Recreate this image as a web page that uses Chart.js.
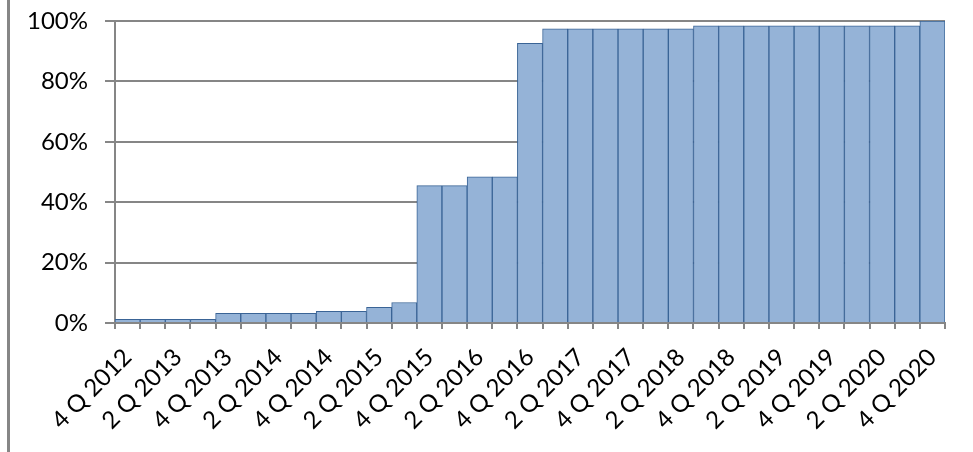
<!DOCTYPE html>
<html>
<head>
<meta charset="utf-8">
<script src="https://cdn.jsdelivr.net/npm/chart.js@4"></script>
<style>
  html, body { margin: 0; padding: 0; background: #fff; }
  #wrap { position: relative; width: 973px; height: 452px; }
  #frame { position: absolute; left: 7px; top: 0; width: 3px; height: 452px; background: #868686; }
  canvas { position: absolute; left: 0; top: 0; }
</style>
</head>
<body>
<div id="wrap">
  <div id="frame"></div>
  <canvas id="shareChart" width="973" height="452"></canvas>
</div>
<script>
// quarters from 4Q 2012 to 4Q 2020
const quarters = [
  "4 Q 2012",
  "1 Q 2013", "2 Q 2013", "3 Q 2013", "4 Q 2013",
  "1 Q 2014", "2 Q 2014", "3 Q 2014", "4 Q 2014",
  "1 Q 2015", "2 Q 2015", "3 Q 2015", "4 Q 2015",
  "1 Q 2016", "2 Q 2016", "3 Q 2016", "4 Q 2016",
  "1 Q 2017", "2 Q 2017", "3 Q 2017", "4 Q 2017",
  "1 Q 2018", "2 Q 2018", "3 Q 2018", "4 Q 2018",
  "1 Q 2019", "2 Q 2019", "3 Q 2019", "4 Q 2019",
  "1 Q 2020", "2 Q 2020", "3 Q 2020", "4 Q 2020"
];

// share, %
const shareValues = [
  1.2, 1.2, 1.2, 1.2,
  3.2, 3.2, 3.2, 3.2,
  3.9, 3.9, 5.2, 6.8,
  45.5, 45.5, 48.4, 48.4,
  92.6, 97.4, 97.4, 97.4,
  97.4, 97.4, 97.4, 98.4,
  98.4, 98.4, 98.4, 98.4,
  98.4, 98.4, 98.4, 98.4,
  100
];

const yTicks = [0, 20, 40, 60, 80, 100];

const axisGrey = "#868686";
const font = { family: "Lato, 'Liberation Sans', sans-serif", size: 24 };

// keep the plot box fixed: no extra room reserved for edge labels
const noEdgePadding = s => {
  s.paddingTop = 0; s.paddingBottom = 0;
  s.paddingLeft = 0; s.paddingRight = 0;
};

new Chart(document.getElementById("shareChart").getContext("2d"), {
  type: "bar",
  data: {
    labels: quarters,
    datasets: [{
      data: shareValues,
      backgroundColor: "#95b3d7",
      borderColor: "#3a6496",
      borderWidth: 1,
      categoryPercentage: 1,
      barPercentage: 1
    }]
  },
  options: {
    responsive: false,
    animation: false,
    layout: { padding: { top: 21, right: 28, left: 0, bottom: 0 } },
    plugins: { legend: { display: false }, tooltip: { enabled: false } },
    scales: {
      x: {
        offset: true,
        grid: {
          offset: true,
          drawOnChartArea: false,
          drawTicks: true,
          tickLength: 6,
          color: axisGrey,
          lineWidth: 2
        },
        border: { color: axisGrey, width: 2 },
        ticks: {
          autoSkip: false,
          maxRotation: 45,
          minRotation: 45,
          padding: 14,
          color: "#000",
          font: font,
          callback: (v, i) => (i % 2 === 0 ? quarters[i] : "")
        },
        afterFit: s => { s.height = 452 - 323; noEdgePadding(s); }
      },
      y: {
        min: 0,
        max: 100,
        afterBuildTicks: s => { s.ticks = yTicks.map(v => ({ value: v })); },
        grid: { color: axisGrey, lineWidth: 2, tickLength: 10 },
        border: { color: axisGrey, width: 2 },
        ticks: {
          padding: 17,
          color: "#000",
          font: font,
          callback: v => v + "%"
        },
        afterFit: s => { s.width = 115; noEdgePadding(s); }
      }
    }
  }
});
</script>
</body>
</html>
